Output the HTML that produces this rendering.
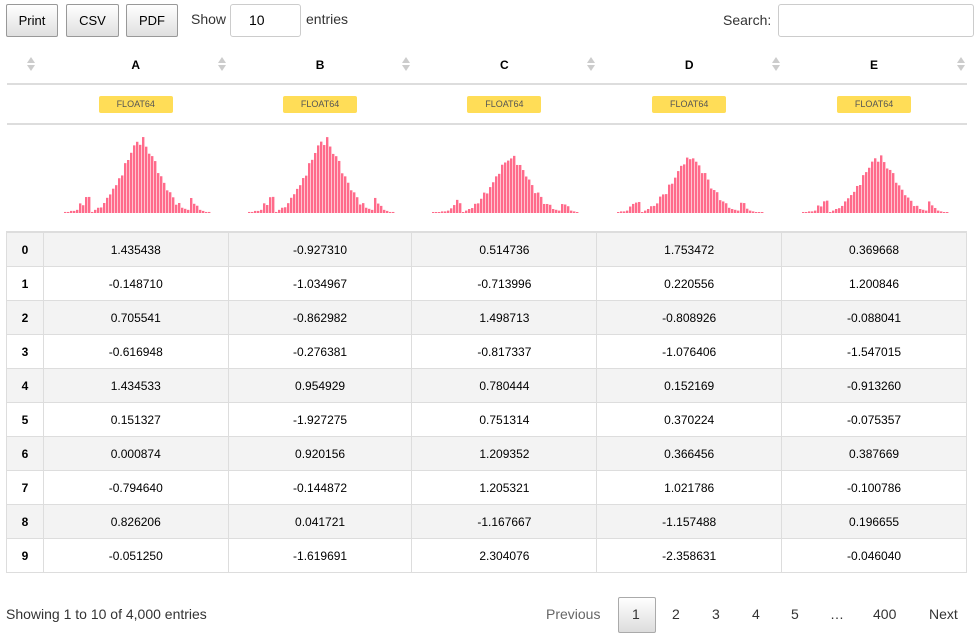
<!DOCTYPE html>
<html><head><meta charset="utf-8"><style>
body{margin:0;width:980px;height:639px;background:#fff;font-family:"Liberation Sans",sans-serif;color:#333;position:relative;overflow:hidden}
.btn{position:absolute;top:4px;height:31px;border:1px solid #999;border-radius:2px;background:linear-gradient(#fff,#e0e0e0);font-size:13px;color:#000;text-align:center;line-height:31px}
.abs{position:absolute}
table{position:absolute;left:6px;top:47px;border-collapse:collapse;width:961px;font-size:12px;color:#000}
td,th{text-align:center;padding:0}
th{height:36px;font-weight:bold;font-size:12px;position:relative;border-bottom:2px solid #ddd}
.sort{position:absolute;right:6px;top:10px;width:0;height:0}
.sort:before{content:"";position:absolute;left:-4px;top:0;border:4px solid transparent;border-bottom:6px solid #ccc;border-top:0}
.sort:after{content:"";position:absolute;left:-4px;top:8px;border:4px solid transparent;border-top:6px solid #ccc;border-bottom:0}
tr.dt td{height:38px;border-bottom:2px solid #ddd}
.badge{display:inline-block;width:74px;height:17px;line-height:17px;background:#ffdd57;border-radius:2px;font-size:9px;color:#555}
tr.h td{height:104px;border-bottom:2px solid #ddd;vertical-align:bottom}
tr.d td{height:33px;border:1px solid #ddd}
tr.d td:first-child{font-weight:bold}
tr.g td{background:#f3f3f3}
.pg{position:absolute;top:606px;font-size:14px;color:#333}
</style></head><body>
<div class="btn" style="left:6px;width:50px">Print</div>
<div class="btn" style="left:66px;width:51px">CSV</div>
<div class="btn" style="left:126px;width:50px">PDF</div>
<div class="abs" style="left:191px;top:11px;font-size:14px">Show</div>
<div class="abs" style="left:230px;top:4px;width:69px;height:31px;border:1px solid #ccc;border-radius:3px;font-size:14px;line-height:31px;text-indent:18px;color:#000">10</div>
<div class="abs" style="left:306px;top:11px;font-size:14px">entries</div>
<div class="abs" style="left:723px;top:12px;font-size:14px">Search:</div>
<div class="abs" style="left:778px;top:4px;width:194px;height:31px;border:1px solid #ccc;border-radius:3px"></div>
<table>
<colgroup><col style="width:37px"><col style="width:185px"><col style="width:184px"><col style="width:185px"><col style="width:185px"><col style="width:185px"></colgroup>
<tr><th><span class="sort" style="right:12px"></span></th><th>A<span class="sort"></span></th><th>B<span class="sort"></span></th><th>C<span class="sort"></span></th><th>D<span class="sort"></span></th><th>E<span class="sort"></span></th></tr>
<tr class="dt"><td></td><td><span class="badge">FLOAT64</span></td><td><span class="badge">FLOAT64</span></td><td><span class="badge">FLOAT64</span></td><td><span class="badge">FLOAT64</span></td><td><span class="badge">FLOAT64</span></td></tr>
<tr class="h"><td></td><td id="h0"></td><td id="h1"></td><td id="h2"></td><td id="h3"></td><td id="h4"></td></tr>
<tr class="d g"><td>0</td><td>1.435438</td><td>-0.927310</td><td>0.514736</td><td>1.753472</td><td>0.369668</td></tr>
<tr class="d"><td>1</td><td>-0.148710</td><td>-1.034967</td><td>-0.713996</td><td>0.220556</td><td>1.200846</td></tr>
<tr class="d g"><td>2</td><td>0.705541</td><td>-0.862982</td><td>1.498713</td><td>-0.808926</td><td>-0.088041</td></tr>
<tr class="d"><td>3</td><td>-0.616948</td><td>-0.276381</td><td>-0.817337</td><td>-1.076406</td><td>-1.547015</td></tr>
<tr class="d g"><td>4</td><td>1.434533</td><td>0.954929</td><td>0.780444</td><td>0.152169</td><td>-0.913260</td></tr>
<tr class="d"><td>5</td><td>0.151327</td><td>-1.927275</td><td>0.751314</td><td>0.370224</td><td>-0.075357</td></tr>
<tr class="d g"><td>6</td><td>0.000874</td><td>0.920156</td><td>1.209352</td><td>0.366456</td><td>0.387669</td></tr>
<tr class="d"><td>7</td><td>-0.794640</td><td>-0.144872</td><td>1.205321</td><td>1.021786</td><td>-0.100786</td></tr>
<tr class="d g"><td>8</td><td>0.826206</td><td>0.041721</td><td>-1.167667</td><td>-1.157488</td><td>0.196655</td></tr>
<tr class="d"><td>9</td><td>-0.051250</td><td>-1.619691</td><td>2.304076</td><td>-2.358631</td><td>-0.046040</td></tr>
</table>
<div class="pg" style="left:6px">Showing 1 to 10 of 4,000 entries</div>
<div class="pg" style="left:546px;color:#666">Previous</div>
<div class="abs" style="left:618px;top:597px;width:36px;height:34px;border:1px solid #aaa;border-radius:2px;background:linear-gradient(#fff,#ddd)"></div>
<div class="pg" style="left:632px">1</div>
<div class="pg" style="left:672px">2</div>
<div class="pg" style="left:712px">3</div>
<div class="pg" style="left:752px">4</div>
<div class="pg" style="left:791px">5</div>
<div class="pg" style="left:830px">…</div>
<div class="pg" style="left:873px">400</div>
<div class="pg" style="left:929px">Next</div>
<script>
var base=[1,1,2,2,3,7,9,14,13,1,3,5,6,9,12,18,23,24,33,36,45,50,58,62,67,66,70,62,58,52,48,40,33,27,24,18,13,10,8,5,4,3,12,10,6,3,2,1,1];
var offs=[0,0,-1,1,0];
for(var k=0;k<5;k++){
 var s='<svg width="150" height="90" style="display:block;margin:0 auto 16px">';
 for(var i=0;i<base.length;i++){
  var idx=i+offs[k];
  var v=(idx>=0&&idx<base.length)?base[idx]:1;
  var j=Math.abs(Math.sin(i*7.3+k*3.1))*5;
  var h=Math.max(1,(v+(v>5?j-2.5:0))*(k<2?1.05:0.8));
  s+='<rect x="'+(3+i*3)+'" y="'+(88-h)+'" width="2.4" height="'+h+'" fill="#ff6b8b"/>';
 }
 document.getElementById('h'+k).innerHTML=s+'</svg>';
}
</script>
</body></html>
